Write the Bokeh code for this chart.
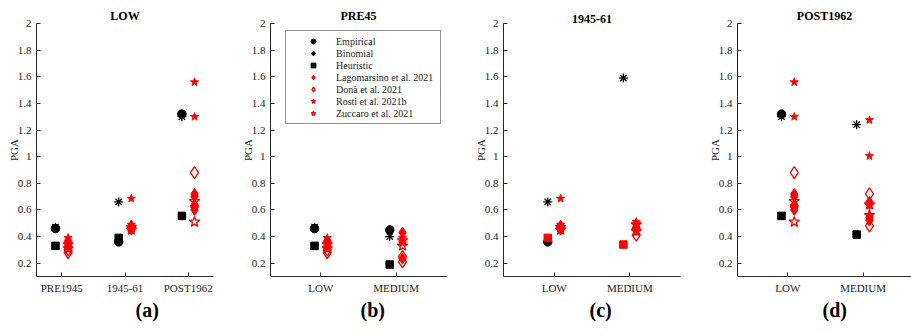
from bokeh.plotting import figure
from bokeh.layouts import row
from bokeh.models import (FixedTicker, NumeralTickFormatter, Range1d, Title,
                          Legend, LegendItem, LinearAxis)
from bokeh.embed import file_html
from bokeh.resources import INLINE

FONT = "Liberation Serif"
RED = "#ff0000"
BLACK = "#000000"
AXIS = "#262626"

# ---------------- data ----------------
y_ticks = [0.2, 0.4, 0.6, 0.8, 1.0, 1.2, 1.4, 1.6, 1.8, 2.0]

legend_labels = ["Empirical", "Binomial", "Heuristic", "Lagomarsino et al. 2021",
                 "Donà et al. 2021", "Rosti et al. 2021b", "Zuccaro et al. 2021"]

# (a) LOW
a_title = "LOW"
a_cats = ["PRE1945", "1945-61", "POST1962"]
a_empirical = [0.46, 0.36, 1.32]
a_binomial = [0.47, 0.66, 1.30]
a_heuristic = [0.33, 0.39, 0.555]
a_lagomarsino = [[0.37, 0.33], [0.48, 0.47], [0.72, 0.70, 0.62, 0.60]]
a_dona = [[0.28, 0.30], [0.46, 0.47], [0.88, 0.63]]
a_rosti = [[0.39, 0.35], [0.685, 0.49], [1.56, 1.30]]
a_zuccaro = [[0.34, 0.31], [0.45, 0.47], [0.665, 0.51]]

# (b) PRE45
b_title = "PRE45"
b_cats = ["LOW", "MEDIUM"]
b_empirical = [0.46, 0.45]
b_binomial = [0.47, 0.40]
b_heuristic = [0.33, 0.19]
b_lagomarsino = [[0.37, 0.33], [0.43, 0.235]]
b_dona = [[0.28, 0.30], [0.25, 0.21]]
b_rosti = [[0.39, 0.35], [0.39, 0.35]]
b_zuccaro = [[0.34, 0.31], [0.37, 0.33]]

# (c) 1945-61
c_title = "1945-61"
c_cats = ["LOW", "MEDIUM"]
c_empirical = [0.36, None]
c_binomial = [0.66, 1.59]
c_heuristic = [0.39, 0.34]
c_lagomarsino = [[0.48, 0.47], [0.47, 0.45]]
c_dona = [[0.46, 0.47], [0.41, 0.46]]
c_rosti = [[0.685, 0.49], [0.51, 0.49]]
c_zuccaro = [[0.45, 0.47], [0.49, 0.44]]

# (d) POST1962
d_title = "POST1962"
d_cats = ["LOW", "MEDIUM"]
d_empirical = [1.32, None]
d_binomial = [1.30, 1.24]
d_heuristic = [0.555, 0.415]
d_lagomarsino = [[0.72, 0.70, 0.62, 0.60], [0.66, 0.645, 0.545, 0.52]]
d_dona = [[0.88, 0.63], [0.72, 0.48]]
d_rosti = [[1.56, 1.30], [1.275, 1.005]]
d_zuccaro = [[0.665, 0.51], [0.64, 0.56]]

# ---------------- styles ----------------
def styles(heur_color):
    return [
        dict(marker="circle", size=8.5, fill_color=BLACK, line_color=BLACK, line_width=1),
        dict(marker="asterisk", size=9, line_color=BLACK, line_width=1.3),
        dict(marker="square", size=7.5, fill_color=heur_color, line_color=heur_color, line_width=1),
        dict(marker="diamond", size=11, fill_color=RED, line_color=RED, line_width=1),
        dict(marker="diamond", size=12, fill_color=None, line_color=RED, line_width=1.3),
        dict(marker="star", size=8.5, fill_color=RED, line_color=RED, line_width=1),
        dict(marker="star", size=11, fill_color=None, line_color=RED, line_width=1.3),
    ]

legend_styles = [
    dict(marker="circle", fill_color=BLACK, line_color=BLACK),
    dict(marker="asterisk", line_color=BLACK, line_width=1.2),
    dict(marker="square", fill_color=BLACK, line_color=BLACK),
    dict(marker="diamond", fill_color=RED, line_color=RED),
    dict(marker="diamond", fill_color=None, line_color=RED, line_width=1.3),
    dict(marker="star", fill_color=RED, line_color=RED),
    dict(marker="star", fill_color=None, line_color=RED, line_width=1.3),
]

H = 335
TOP = 23
BOTTOM = 59


def panel(title, letter, cats, series, width, left, right, xr, off_b, off_r,
          letter_offset, heur_color=BLACK, legend=False):
    p = figure(width=width, height=H, output_backend="svg", toolbar_location=None,
               x_range=Range1d(*xr), y_range=Range1d(0.1, 2.0),
               min_border_left=left, min_border_right=right,
               min_border_top=TOP, min_border_bottom=BOTTOM)
    p.outline_line_color = None
    p.xgrid.visible = False
    p.ygrid.visible = False
    p.background_fill_color = "white"
    p.border_fill_color = "white"

    p.title.text = title
    p.title.text_font = FONT
    p.title.text_font_style = "bold"
    p.title.text_font_size = "12px"
    p.title.text_color = "black"
    p.title.align = "center"
    p.title.standoff = 2

    st = styles(heur_color)
    for k, vals in enumerate(series):
        xs, ys = [], []
        off = off_b if k < 3 else off_r
        for i, v in enumerate(vals):
            vv = v if isinstance(v, list) else [v]
            for y in vv:
                if y is None:
                    continue
                xs.append(i + 1 + off)
                ys.append(y)
        p.scatter(x=xs, y=ys, **st[k])

    for ax in (p.xaxis[0], p.yaxis[0]):
        ax.axis_line_color = AXIS
        ax.axis_line_width = 1
        ax.major_tick_line_color = AXIS
        ax.major_tick_in = 4
        ax.major_tick_out = 0
        ax.minor_tick_line_color = None
        ax.major_label_text_font = FONT
        ax.major_label_text_font_size = "11px"
        ax.major_label_text_color = AXIS
        ax.major_label_standoff = 5

    p.xaxis.ticker = FixedTicker(ticks=list(range(1, len(cats) + 1)))
    p.xaxis.major_label_overrides = {i + 1: c for i, c in enumerate(cats)}
    p.yaxis.ticker = FixedTicker(ticks=y_ticks)
    p.yaxis.formatter = NumeralTickFormatter(format="0.[0]")
    p.yaxis.axis_label = "PGA"
    p.yaxis.axis_label_text_font = FONT
    p.yaxis.axis_label_text_font_size = "11px"
    p.yaxis.axis_label_text_font_style = "normal"
    p.yaxis.axis_label_text_color = AXIS
    p.yaxis.axis_label_standoff = -5

    # invisible spacer between tick labels and panel letter
    spacer = LinearAxis(ticker=FixedTicker(ticks=[]), major_tick_out=17, major_tick_in=0,
                        axis_line_color=None, major_tick_line_color=None,
                        minor_tick_line_color=None, major_label_standoff=0)
    p.add_layout(spacer, "below")
    p.add_layout(Title(text=letter, align="left", offset=letter_offset, standoff=0,
                       text_font=FONT, text_font_style="bold", text_font_size="20px",
                       text_color="black"), "below")

    if legend:
        items = []
        for lab, ls in zip(legend_labels, legend_styles):
            r = p.scatter(x=[float("nan")], y=[float("nan")], **ls)
            items.append(LegendItem(label=lab, renderers=[r]))
        lg = Legend(items=items, location=(15, 152), orientation="vertical",
                    label_text_font=FONT, label_text_font_size="10px",
                    label_text_color=AXIS, label_height=12, label_width=100,
                    glyph_height=12, glyph_width=46, label_standoff=0, spacing=0,
                    padding=4, margin=0, border_line_color=AXIS, border_line_width=1,
                    background_fill_color="white", background_fill_alpha=1)
        p.add_layout(lg, "center")
    return p


pa = panel(a_title, "(a)", a_cats,
           [a_empirical, a_binomial, a_heuristic, a_lagomarsino, a_dona, a_rosti, a_zuccaro],
           width=238, left=36, right=25, xr=(0.6, 3.4), off_b=-0.1, off_r=0.1,
           letter_offset=99)
pb = panel(b_title, "(b)", b_cats,
           [b_empirical, b_binomial, b_heuristic, b_lagomarsino, b_dona, b_rosti, b_zuccaro],
           width=233, left=30, right=25, xr=(0.33, 2.67), off_b=-0.085, off_r=0.085,
           letter_offset=90, legend=True)
pc = panel(c_title, "(c)", c_cats,
           [c_empirical, c_binomial, c_heuristic, c_lagomarsino, c_dona, c_rosti, c_zuccaro],
           width=234, left=31, right=25, xr=(0.33, 2.67), off_b=-0.085, off_r=0.085,
           letter_offset=86, heur_color=RED)
pd = panel(d_title, "(d)", d_cats,
           [d_empirical, d_binomial, d_heuristic, d_lagomarsino, d_dona, d_rosti, d_zuccaro],
           width=206, left=30, right=0, xr=(0.33, 2.644), off_b=-0.085, off_r=0.085,
           letter_offset=85)

layout = row(pa, pb, pc, pd, spacing=0)
open("out.html", "w").write(file_html(layout, INLINE))
